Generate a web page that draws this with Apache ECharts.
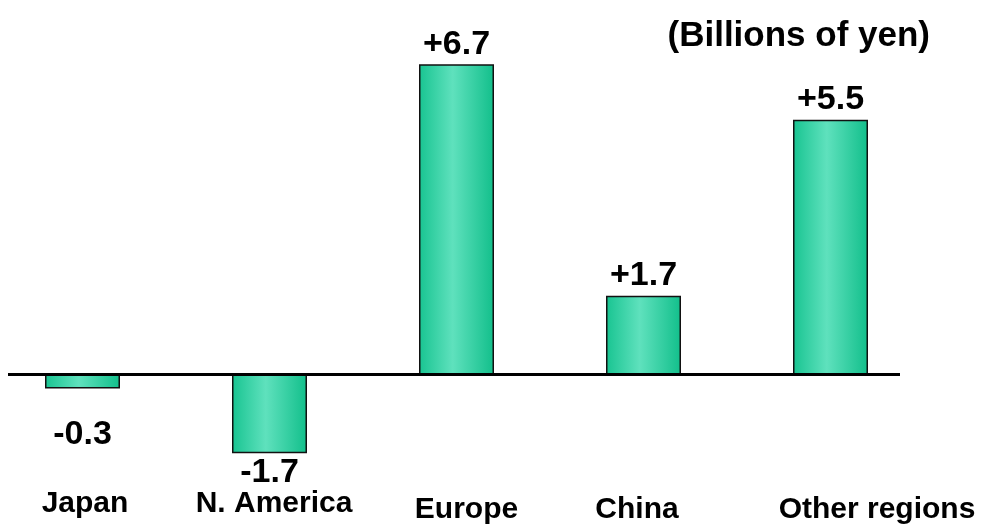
<!DOCTYPE html>
<html>
<head>
<meta charset="utf-8">
<script src="https://cdn.jsdelivr.net/npm/echarts@6/dist/echarts.min.js"></script>
<style>
  html, body { margin: 0; padding: 0; background: #ffffff; }
  #chart { width: 988px; height: 525px; }
</style>
</head>
<body>
<div id="chart"></div>
<script>
// Change by region, billions of yen
const regions = ['Japan', 'N. America', 'Europe', 'China', 'Other regions'];
const changes = [-0.3, -1.7, 6.7, 1.7, 5.5];
const unitText = '(Billions of yen)';

// rich-text keys used to nudge each region name under its bar
const regionKeys = ['j', 'n', 'e', 'c', 'o'];

const FONT = "'Liberation Sans', Arial, Helvetica, sans-serif";

const barFill = new echarts.graphic.LinearGradient(0, 0, 1, 0, [
  { offset: 0, color: '#18c491' },
  { offset: 0.45, color: '#5fe1bd' },
  { offset: 1, color: '#12bf8b' }
]);

// label distance below negative bars
const negDistance = { 'Japan': 29, 'N. America': 2 };

const chart = echarts.init(document.getElementById('chart'), null, { renderer: 'canvas' });

const nameStyle = { fontFamily: FONT, fontWeight: 'bold', fontSize: 30, color: '#000' };

const option = {
  animation: false,
  backgroundColor: '#ffffff',
  title: {
    text: unitText,
    right: 53,
    top: 14,
    textStyle: { fontFamily: FONT, fontWeight: 'bold', fontSize: 35, color: '#000' }
  },
  grid: { left: -11, width: 935, top: 50.4, height: 416.7, outerBoundsMode: 'none', containLabel: false },
  xAxis: {
    type: 'category',
    data: regions,
    axisLine: { show: false, onZero: false },
    axisTick: { show: false },
    axisLabel: {
      interval: 0,
      margin: 22,
      hideOverlap: false,
      formatter: function (v, i) { return '{' + regionKeys[i] + '|' + v + '}'; },
      rich: {
        j: Object.assign({}, nameStyle, { padding: [0, 0, 0, 5] }),
        n: Object.assign({}, nameStyle, { padding: [0, 0, 0, 9] }),
        e: Object.assign({}, nameStyle, { padding: [6, 0, 0, 20] }),
        c: Object.assign({}, nameStyle, { padding: [6, 13, 0, 0] }),
        o: Object.assign({}, nameStyle, { padding: [6, 0, 0, 93] })
      }
    }
  },
  yAxis: {
    type: 'value',
    min: -2,
    max: 7,
    show: false,
    splitLine: { show: false }
  },
  series: [{
    type: 'bar',
    barWidth: 75,
    data: changes.map(function (v, i) {
      const item = { value: v };
      if (v < 0) {
        item.label = { position: 'bottom', distance: negDistance[regions[i]] };
      }
      return item;
    }),
    itemStyle: { color: barFill, borderColor: '#111', borderWidth: 1.5 },
    label: {
      show: true,
      position: 'top',
      distance: 3,
      fontFamily: FONT,
      fontWeight: 'bold',
      fontSize: 34,
      color: '#000',
      formatter: function (p) { return (p.value > 0 ? '+' : '') + p.value.toFixed(1); }
    }
  }]
};

chart.setOption(option);

// zero baseline, drawn across the plot at the value-axis origin
const zeroY = chart.convertToPixel({ yAxisIndex: 0 }, 0);
chart.setOption({
  graphic: [{
    type: 'line',
    shape: { x1: 8, y1: zeroY, x2: 900, y2: zeroY },
    style: { stroke: '#000', lineWidth: 3 },
    z: 10
  }]
});
</script>
</body>
</html>
